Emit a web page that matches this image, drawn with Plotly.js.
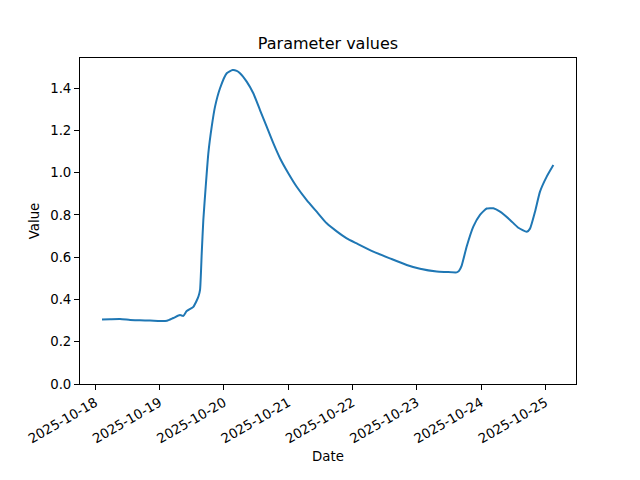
<!DOCTYPE html>
<html>
<head>
<meta charset="utf-8">
<script src="https://cdn.plot.ly/plotly-3.0.1.min.js"></script>
<style>html,body{margin:0;padding:0;background:#fff;}#chart{width:640px;height:480px;}</style>
</head>
<body>
<div id="chart"></div>
<script>
const times = [
  "2025-10-18 02:30","2025-10-18 05:30","2025-10-18 09:13","2025-10-18 13:00","2025-10-18 16:40",
  "2025-10-18 20:25","2025-10-19 00:09","2025-10-19 02:45","2025-10-19 05:06","2025-10-19 07:36",
  "2025-10-19 08:51","2025-10-19 10:07","2025-10-19 12:35","2025-10-19 13:51","2025-10-19 14:31",
  "2025-10-19 15:05","2025-10-19 15:43","2025-10-19 16:19","2025-10-19 17:12","2025-10-19 18:11",
  "2025-10-19 19:27","2025-10-19 20:41","2025-10-19 22:33","2025-10-20 01:03","2025-10-20 03:15",
  "2025-10-20 04:47","2025-10-20 06:00","2025-10-20 08:30","2025-10-20 10:58",
  "2025-10-20 13:28","2025-10-20 15:58","2025-10-20 18:26","2025-10-20 20:56","2025-10-21 00:02",
  "2025-10-21 03:10","2025-10-21 06:54","2025-10-21 10:38","2025-10-21 14:22","2025-10-21 18:06",
  "2025-10-21 21:50","2025-10-22 01:34","2025-10-22 07:46","2025-10-22 14:00","2025-10-22 20:14",
  "2025-10-23 01:12","2025-10-23 07:25","2025-10-23 10:54","2025-10-23 14:54","2025-10-23 15:45",
  "2025-10-23 16:45","2025-10-23 18:37","2025-10-23 21:05","2025-10-23 23:35","2025-10-24 02:05",
  "2025-10-24 04:34","2025-10-24 07:04","2025-10-24 10:48","2025-10-24 13:54","2025-10-24 17:02",
  "2025-10-24 18:15","2025-10-24 20:07","2025-10-24 21:59","2025-10-25 00:29","2025-10-25 02:58"
];
const values = [
  0.305,0.306,0.307,0.303,0.301,
  0.300,0.298,0.299,0.312,0.326,
  0.322,0.345,0.365,0.395,0.415,
  0.445,0.618,0.776,0.933,1.091,
  1.217,1.312,1.399,1.470,1.485,
  1.481,1.470,1.430,1.375,
  1.296,1.217,1.139,1.068,0.997,
  0.933,0.870,0.815,0.760,0.722,
  0.689,0.665,0.626,0.594,0.563,
  0.545,0.532,0.530,0.528,0.535,
  0.560,0.650,0.744,0.800,0.830,
  0.831,0.815,0.776,0.739,0.720,
  0.735,0.815,0.910,0.981,1.036
];
const xTickVals = ["2025-10-18","2025-10-19","2025-10-20","2025-10-21","2025-10-22","2025-10-23","2025-10-24","2025-10-25"];
const xTickText = ["2025-10-18","2025-10-19","2025-10-20","2025-10-21","2025-10-22","2025-10-23","2025-10-24","2025-10-25"];
const yTickVals = [0,0.2,0.4,0.6,0.8,1.0,1.2,1.4];

const font = {family: "DejaVu Sans", size: 13.3, color: "#000"};
Plotly.newPlot("chart", [{
  x: times, y: values, type: "scatter", mode: "lines",
  line: {color: "#1f77b4", width: 2, shape: "spline", smoothing: 0.5}
}], {
  width: 640, height: 480,
  margin: {l: 80, r: 64, t: 58, b: 96},
  paper_bgcolor: "#fff", plot_bgcolor: "#fff",
  font: font,
  showlegend: false,
  title: {text: "Parameter values", font: {family: "DejaVu Sans", size: 16, color: "#000"}, x: 0.5, xref: "paper", y: 1, yref: "paper", yanchor: "bottom", pad: {b: 9}},
  xaxis: {
    type: "date", range: ["2025-10-17 18:17", "2025-10-25 11:25"],
    tickmode: "array", tickvals: xTickVals, ticktext: xTickText, tickangle: -30,
    ticks: "outside", ticklen: 5, tickcolor: "#000", tickwidth: 1,
    showline: true, mirror: true, linecolor: "#000", linewidth: 1,
    showgrid: false, zeroline: false,
    tickfont: font,
    title: {text: "Date", font: font, standoff: 6}
  },
  yaxis: {
    range: [0, 1.542],
    tickmode: "array", tickvals: yTickVals, tickformat: ".1f",
    ticks: "outside", ticklen: 5, tickcolor: "#000", tickwidth: 1,
    showline: true, mirror: true, linecolor: "#000", linewidth: 1,
    showgrid: false, zeroline: false,
    tickfont: font,
    title: {text: "Value", font: font, standoff: 7}
  }
}, {displayModeBar: false, staticPlot: true});
</script>
</body>
</html>
